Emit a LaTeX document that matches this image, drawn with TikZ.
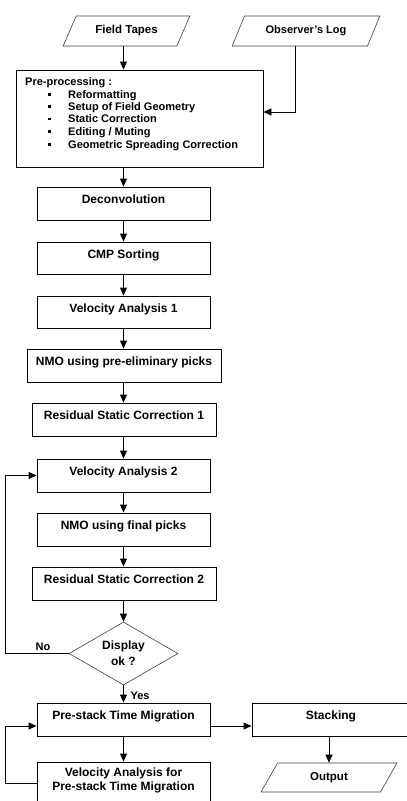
\documentclass[tikz,border=0pt]{standalone}
\usepackage{fontspec}
\setmainfont{Liberation Sans}
\usetikzlibrary{shapes.geometric,arrows.meta}
\begin{document}
\begin{tikzpicture}[x=1pt,y=-1pt,
  box/.style={draw, line width=0.9pt, fill=white, minimum width=173pt, minimum height=33pt,
    inner sep=0pt, font=\bfseries\fontsize{12}{14}\selectfont, text height=9pt, text depth=8.5pt},
  io/.style={trapezium, trapezium left angle=60, trapezium right angle=120, trapezium stretches=true,
    draw=black!75, line width=0.6pt, inner sep=0pt, minimum height=30pt,
    font=\bfseries\fontsize{11.5}{13}\selectfont},
  dec/.style={diamond, aspect=1.7, draw=black!75, line width=0.6pt, inner sep=0pt,
    minimum width=109pt, minimum height=63pt, align=center, font=\bfseries\fontsize{12}{16}\selectfont},
  arr/.style={line width=0.9pt, -{Triangle[length=8pt,width=7pt]}},
  lbl/.style={font=\bfseries\fontsize{11}{12}\selectfont, inner sep=0pt}]
\useasboundingbox (0,0) rectangle (407,801);

% inputs
\node[io, minimum width=127pt, text height=9pt, text depth=5pt] (ft) at (126.5,31) {Field Tapes};
\node[io, minimum width=148pt, font=\bfseries\fontsize{11}{12}\selectfont, text height=9pt, text depth=5pt] (ol) at (306,31) {Observer's Log};

% pre-processing
\node[box, minimum width=247pt, minimum height=97pt] (pre) at (139.5,118.5) {};
\node[anchor=north west, inner sep=0pt, align=left, font=\bfseries\fontsize{11}{12.4}\selectfont] (pretxt) at (25,77.5)
{Pre-processing :\\
\hspace*{23pt}\rule[2.5pt]{2.5pt}{2.5pt}\hspace*{17.5pt}Reformatting\\
\hspace*{23pt}\rule[2.5pt]{2.5pt}{2.5pt}\hspace*{17.5pt}Setup of Field Geometry\\
\hspace*{23pt}\rule[2.5pt]{2.5pt}{2.5pt}\hspace*{17.5pt}Static Correction\\
\hspace*{23pt}\rule[2.5pt]{2.5pt}{2.5pt}\hspace*{17.5pt}Editing / Muting\\[0.6pt]
\hspace*{23pt}\rule[2.5pt]{2.5pt}{2.5pt}\hspace*{17.5pt}Geometric Spreading Correction};

% main column
\node[box] (de) at (123.5,203.5) {Deconvolution};
\node[box, minimum height=32pt] (cmp) at (123.5,258) {CMP Sorting};
\node[box, minimum height=32pt] (va1) at (123.5,312) {Velocity Analysis 1};
\node[box, minimum width=194pt] (nmo1) at (124,365.5) {NMO using pre-eliminary picks};
\node[box, minimum width=184pt] (rs1) at (124,419.5) {Residual Static Correction 1};
\node[box] (va2) at (123.5,475.5) {Velocity Analysis 2};
\node[box] (nmo2) at (123.5,529.5) {NMO using final picks};
\node[box, minimum width=184pt] (rs2) at (124,583.5) {Residual Static Correction 2};
\node[dec] (dd) at (123.5,653.5) {Display\\ok ?};
\node[box] (ps) at (123.5,719.5) {Pre-stack Time Migration};
\node[box, minimum width=158pt] (st) at (331,719.5) {Stacking};
\node[box, minimum height=50pt] (vap) at (123.5,787) {};
\node[align=center, inner sep=0pt, font=\bfseries\fontsize{12}{14}\selectfont] (vaptxt) at (123.5,780)
  {Velocity Analysis for\\Pre-stack Time Migration};
\node[io, minimum width=136pt, minimum height=29pt] (out) at (329,777.5) {Output};

% labels
\node[lbl] (no) at (43,647) {No};
\node[lbl] (yes) at (140,696) {Yes};

\coordinate (lx) at (5,0);

% connectors
\draw[arr] (ft.south -| de.north) -- (pre.north -| de.north);
\draw[arr] ([xshift=-11pt]ol.south) |- ([yshift=6.5pt]pre.east);
\draw[arr] (pre.south -| de.north) -- (de.north);
\draw[arr] (de) -- (cmp);
\draw[arr] (cmp) -- (va1);
\draw[arr] (va1.south) -- (va1.south |- nmo1.north);
\draw[arr] (nmo1.south -| va1.south) -- (rs1.north -| va1.south);
\draw[arr] (rs1.south -| va1.south) -- (va2.north);
\draw[arr] (va2) -- (nmo2);
\draw[arr] (nmo2.south) -- (nmo2.south |- rs2.north);
\draw[arr] (rs2.south -| dd.north) -- (dd.north);
\draw[arr] (dd.west) -- (dd.west -| lx) |- (va2.west);
\draw[arr] (dd.south) -- (ps.north);
\draw[arr] (ps) -- (vap);
\draw[arr] ([yshift=-6.5pt]ps.east) -- ([yshift=-6.5pt]st.west);
\draw[arr] ([yshift=4pt]vap.west) -- ([yshift=4pt]vap.west -| lx) |- ([yshift=-6.5pt]ps.west);
\draw[arr] (st.south -| out.north) -- (out.north);
\end{tikzpicture}
\end{document}
